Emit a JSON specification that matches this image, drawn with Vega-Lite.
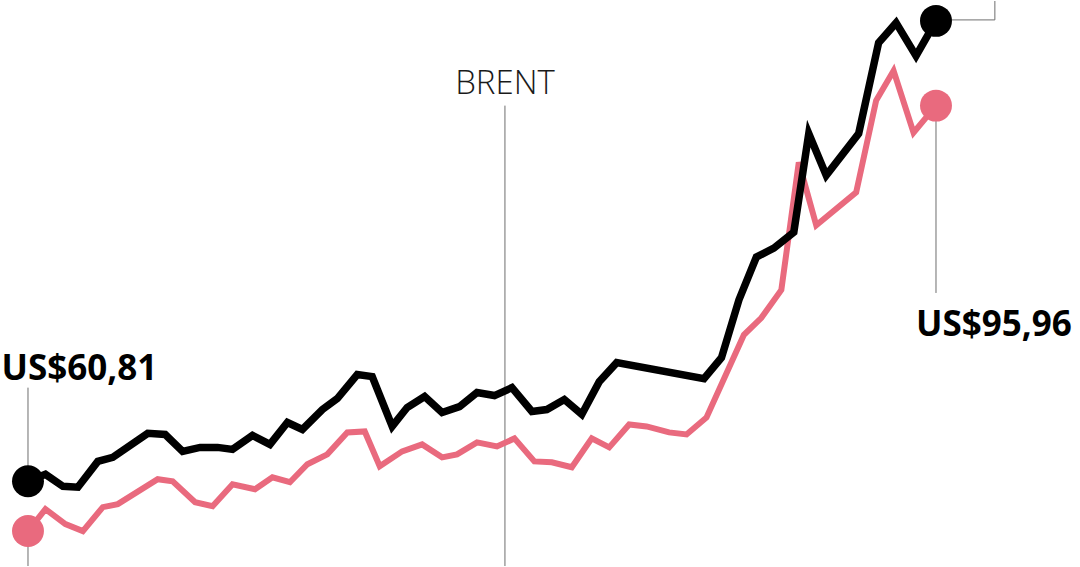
{
  "$schema": "https://vega.github.io/schema/vega-lite/v6.json",
  "width": 1080,
  "height": 567,
  "autosize": {"type": "fit", "contains": "padding"},
  "padding": 0,
  "background": "white",
  "config": {"view": {"stroke": null}},
  "datasets": {
    "prices": [
      {"serie": "Brent", "day": 0, "price": 60.81},
      {"serie": "Brent", "day": 7, "price": 61.46},
      {"serie": "Brent", "day": 14, "price": 60.34},
      {"serie": "Brent", "day": 20, "price": 60.25},
      {"serie": "Brent", "day": 28, "price": 62.67},
      {"serie": "Brent", "day": 34, "price": 63.05},
      {"serie": "Brent", "day": 48, "price": 65.29},
      {"serie": "Brent", "day": 55, "price": 65.19},
      {"serie": "Brent", "day": 62, "price": 63.61},
      {"serie": "Brent", "day": 69, "price": 63.98},
      {"serie": "Brent", "day": 76, "price": 63.98},
      {"serie": "Brent", "day": 82, "price": 63.79},
      {"serie": "Brent", "day": 90, "price": 65.10},
      {"serie": "Brent", "day": 97, "price": 64.26},
      {"serie": "Brent", "day": 104, "price": 66.31},
      {"serie": "Brent", "day": 110, "price": 65.66},
      {"serie": "Brent", "day": 118, "price": 67.52},
      {"serie": "Brent", "day": 124, "price": 68.55},
      {"serie": "Brent", "day": 132, "price": 70.79},
      {"serie": "Brent", "day": 138, "price": 70.60},
      {"serie": "Brent", "day": 146, "price": 65.94},
      {"serie": "Brent", "day": 152, "price": 67.71},
      {"serie": "Brent", "day": 159, "price": 68.74},
      {"serie": "Brent", "day": 166, "price": 67.24},
      {"serie": "Brent", "day": 173, "price": 67.80},
      {"serie": "Brent", "day": 180, "price": 69.11},
      {"serie": "Brent", "day": 187, "price": 68.83},
      {"serie": "Brent", "day": 194, "price": 69.57},
      {"serie": "Brent", "day": 202, "price": 67.34},
      {"serie": "Brent", "day": 208, "price": 67.52},
      {"serie": "Brent", "day": 215, "price": 68.46},
      {"serie": "Brent", "day": 222, "price": 67.06},
      {"serie": "Brent", "day": 229, "price": 70.13},
      {"serie": "Brent", "day": 236, "price": 71.91},
      {"serie": "Brent", "day": 271, "price": 70.41},
      {"serie": "Brent", "day": 278, "price": 72.37},
      {"serie": "Brent", "day": 285, "price": 77.78},
      {"serie": "Brent", "day": 292, "price": 81.79},
      {"serie": "Brent", "day": 299, "price": 82.63},
      {"serie": "Brent", "day": 307, "price": 84.12},
      {"serie": "Brent", "day": 313, "price": 93.35},
      {"serie": "Brent", "day": 320, "price": 89.43},
      {"serie": "Brent", "day": 333, "price": 93.35},
      {"serie": "Brent", "day": 341, "price": 101.84},
      {"serie": "Brent", "day": 348, "price": 103.70},
      {"serie": "Brent", "day": 356, "price": 100.62},
      {"serie": "Brent", "day": 364, "price": 103.89},
      {"serie": "Outro", "day": 0, "price": 56.15},
      {"serie": "Outro", "day": 7, "price": 58.20},
      {"serie": "Outro", "day": 15, "price": 56.80},
      {"serie": "Outro", "day": 22, "price": 56.15},
      {"serie": "Outro", "day": 30, "price": 58.39},
      {"serie": "Outro", "day": 36, "price": 58.67},
      {"serie": "Outro", "day": 52, "price": 61.00},
      {"serie": "Outro", "day": 58, "price": 60.81},
      {"serie": "Outro", "day": 67, "price": 58.85},
      {"serie": "Outro", "day": 74, "price": 58.48},
      {"serie": "Outro", "day": 82, "price": 60.53},
      {"serie": "Outro", "day": 91, "price": 60.06},
      {"serie": "Outro", "day": 98, "price": 61.18},
      {"serie": "Outro", "day": 105, "price": 60.72},
      {"serie": "Outro", "day": 112, "price": 62.40},
      {"serie": "Outro", "day": 120, "price": 63.33},
      {"serie": "Outro", "day": 128, "price": 65.38},
      {"serie": "Outro", "day": 135, "price": 65.47},
      {"serie": "Outro", "day": 141, "price": 62.21},
      {"serie": "Outro", "day": 150, "price": 63.61},
      {"serie": "Outro", "day": 158, "price": 64.26},
      {"serie": "Outro", "day": 166, "price": 63.05},
      {"serie": "Outro", "day": 172, "price": 63.33},
      {"serie": "Outro", "day": 180, "price": 64.45},
      {"serie": "Outro", "day": 188, "price": 64.07},
      {"serie": "Outro", "day": 195, "price": 64.82},
      {"serie": "Outro", "day": 203, "price": 62.67},
      {"serie": "Outro", "day": 210, "price": 62.58},
      {"serie": "Outro", "day": 218, "price": 62.12},
      {"serie": "Outro", "day": 226, "price": 64.82},
      {"serie": "Outro", "day": 233, "price": 63.98},
      {"serie": "Outro", "day": 241, "price": 66.12},
      {"serie": "Outro", "day": 248, "price": 65.94},
      {"serie": "Outro", "day": 257, "price": 65.38},
      {"serie": "Outro", "day": 264, "price": 65.19},
      {"serie": "Outro", "day": 272, "price": 66.78},
      {"serie": "Outro", "day": 287, "price": 74.52},
      {"serie": "Outro", "day": 294, "price": 76.10},
      {"serie": "Outro", "day": 302, "price": 78.71},
      {"serie": "Outro", "day": 309, "price": 90.65},
      {"serie": "Outro", "day": 316, "price": 84.77},
      {"serie": "Outro", "day": 332, "price": 87.85},
      {"serie": "Outro", "day": 340, "price": 96.43},
      {"serie": "Outro", "day": 347, "price": 99.22},
      {"serie": "Outro", "day": 355, "price": 93.44},
      {"serie": "Outro", "day": 364, "price": 95.96}
    ],
    "leaders": [
      {"x": 0, "y": 69.57, "x2": 0, "y2": 60.81},
      {"x": 0, "y": 56.15, "x2": 0, "y2": 52.88},
      {"x": 191.2, "y": 95.96, "x2": 191.2, "y2": 52.88},
      {"x": 364, "y": 95.96, "x2": 364, "y2": 78.43},
      {"x": 364, "y": 103.98, "x2": 387.6, "y2": 103.98},
      {"x": 387.6, "y": 103.98, "x2": 387.6, "y2": 105.75}
    ],
    "values": [
      {"x": 20.6, "y": 70.32, "label": "US$60,81"},
      {"x": 387.2, "y": 74.42, "label": "US$95,96"}
    ],
    "names": [
      {"x": 191.2, "y": 97.08, "label": "BRENT"}
    ]
  },
  "layer": [
    {
      "data": {"name": "leaders"},
      "mark": {"type": "rule", "color": "#6e6e6e", "strokeWidth": 1},
      "encoding": {
        "x": {"field": "x", "type": "quantitative", "scale": {"domain": [-11.22, 421.73], "nice": false, "zero": false}, "axis": null},
        "y": {"field": "y", "type": "quantitative", "scale": {"domain": [52.88, 105.75], "nice": false, "zero": false}, "axis": null},
        "x2": {"field": "x2"},
        "y2": {"field": "y2"}
      }
    },
    {
      "data": {"name": "prices"},
      "transform": [{"filter": "datum.serie == 'Outro'"}],
      "mark": {"type": "line", "color": "#e96a7e", "strokeWidth": 6, "strokeJoin": "miter", "strokeCap": "butt"},
      "encoding": {
        "x": {"field": "day", "type": "quantitative"},
        "y": {"field": "price", "type": "quantitative"}
      }
    },
    {
      "data": {"name": "prices"},
      "transform": [{"filter": "datum.serie == 'Brent'"}],
      "mark": {"type": "line", "color": "#000000", "strokeWidth": 7.5, "strokeJoin": "miter", "strokeCap": "butt"},
      "encoding": {
        "x": {"field": "day", "type": "quantitative"},
        "y": {"field": "price", "type": "quantitative"}
      }
    },
    {
      "data": {"name": "prices"},
      "transform": [{"filter": "datum.day == 0 || datum.day == 364"}],
      "mark": {"type": "circle", "size": 1020, "opacity": 1},
      "encoding": {
        "x": {"field": "day", "type": "quantitative"},
        "y": {"field": "price", "type": "quantitative"},
        "color": {"field": "serie", "type": "nominal", "scale": {"domain": ["Brent", "Outro"], "range": ["#000000", "#e96a7e"]}, "legend": null}
      }
    },
    {
      "data": {"name": "values"},
      "mark": {"type": "text", "font": "Open Sans", "fontWeight": "bold", "fontSize": 35, "align": "center", "baseline": "alphabetic", "color": "#000000"},
      "encoding": {
        "x": {"field": "x", "type": "quantitative"},
        "y": {"field": "y", "type": "quantitative"},
        "text": {"field": "label"}
      }
    },
    {
      "data": {"name": "names"},
      "mark": {"type": "text", "font": "Open Sans", "fontWeight": 300, "fontSize": 33, "align": "center", "baseline": "alphabetic", "color": "#1a1a1a"},
      "encoding": {
        "x": {"field": "x", "type": "quantitative"},
        "y": {"field": "y", "type": "quantitative"},
        "text": {"field": "label"}
      }
    }
  ]
}
